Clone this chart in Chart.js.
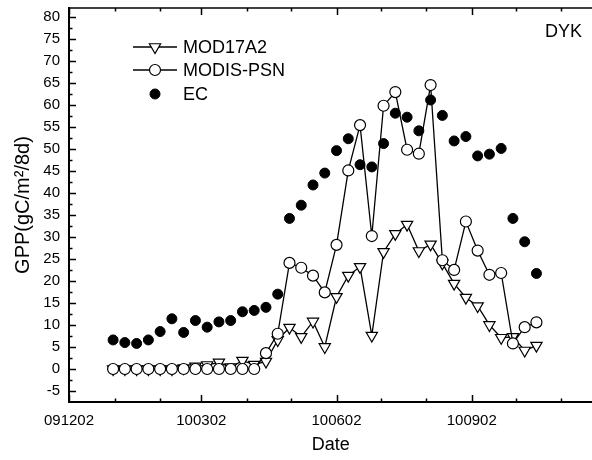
<!DOCTYPE html>
<html><head><meta charset="utf-8">
<script src="https://cdn.jsdelivr.net/npm/chart.js@4/dist/chart.umd.min.js"></script>
<style>html,body{margin:0;padding:0;background:#fff;overflow:hidden}#wrap{width:592px;height:460px;overflow:hidden}</style>
</head><body>
<div id="wrap"><canvas id="c" width="600" height="460"></canvas></div>
<script>
// ---- data ----
const dates = ['100101','100109','100117','100125','100202','100210','100218','100226','100306','100314',
  '100322','100330','100407','100415','100423','100501','100509','100517','100525','100602',
  '100610','100618','100626','100704','100712','100720','100728','100805','100813','100821',
  '100829','100906','100914','100922','100930','101008','101016'];
const mod17a2 = [0.0,0.0,0.0,0.0,0.0,0.0,0.2,0.6,0.9,1.5,
  0.4,1.9,1.0,1.7,6.6,9.4,7.3,10.8,5.0,16.4,
  21.2,23.2,7.6,26.6,30.7,32.8,26.8,28.3,24.0,19.4,
  16.2,14.3,10.0,7.1,7.3,4.2,5.3];
const modisPsn = [0.0,0.0,0.0,0.0,0.0,0.0,0.0,0.0,0.0,0.0,
  0.0,0.0,0.0,3.6,8.0,24.1,23.0,21.2,17.4,28.2,
  45.1,55.4,30.2,59.8,62.9,49.8,48.9,64.5,24.7,22.5,
  33.5,26.9,21.4,21.8,5.8,9.5,10.6];
const ec = [6.6,6.0,5.8,6.6,8.5,11.4,8.3,11.0,9.5,10.7,
  11.0,13.0,13.3,14.0,17.0,34.2,37.2,41.8,44.5,49.6,
  52.3,46.4,45.9,51.2,58.1,57.2,54.1,61.1,57.6,51.8,
  52.8,48.4,48.8,50.1,34.2,28.9,21.7];
const seriesNames = ['MOD17A2','MODIS-PSN','EC'];
const xTickDates = ['091202','100102','100202','100302','100402','100502','100602','100702','100802','100902','101002','101102'];
const xLabelDates = ['091202','100302','100602','100902'];
const yMajorTicks = [-5,0,5,10,15,20,25,30,35,40,45,50,55,60,65,70,75,80];
const yMinorTicks = [-2.5,2.5,7.5,12.5,17.5,22.5,27.5,32.5,37.5,42.5,47.5,52.5,57.5,62.5,67.5,72.5,77.5];
const siteName = 'DYK';
const xTitle = 'Date';
const yTitle = 'GPP(gC/m\u00B2/8d)';

// ---- helpers ----
const F = "'Liberation Sans', Arial, Helvetica, sans-serif";
function dayOf(s){
  const y = 2000 + +s.slice(0,2), m = +s.slice(2,4) - 1, d = +s.slice(4,6);
  return (Date.UTC(y,m,d) - Date.UTC(2009,11,2)) / 864e5;
}
const pts = arr => dates.map((d,i)=>({x: dayOf(d), y: arr[i]}));

const decor = {
  id: 'decor',
  afterDraw(chart){
    const {ctx, chartArea: a, scales: {x, y}} = chart;
    ctx.save();
    ctx.strokeStyle = '#000';
    ctx.lineWidth = 1.5;
    // top frame line
    ctx.beginPath(); ctx.moveTo(a.left - 1, a.top); ctx.lineTo(a.right, a.top); ctx.stroke();
    // x ticks (inward, bottom and top)
    x.ticks.forEach((t, i) => {
      const px = Math.round(x.getPixelForValue(t.value)) + 0.5;
      const L = xLabelDates.includes(xTickDates[i]) ? 7 : 3.5;
      ctx.beginPath();
      ctx.moveTo(px, a.bottom); ctx.lineTo(px, a.bottom - L);
      ctx.moveTo(px, a.top); ctx.lineTo(px, a.top + L);
      ctx.stroke();
    });
    // y ticks (inward, left)
    y.ticks.forEach(t => {
      const py = Math.round(y.getPixelForValue(t.value)) + 0.5;
      const L = yMajorTicks.includes(t.value) ? 7 : 3.5;
      ctx.beginPath(); ctx.moveTo(a.left, py); ctx.lineTo(a.left + L, py); ctx.stroke();
    });
    // legend
    const rows = [47, 70, 94];
    ctx.font = '18px ' + F;
    ctx.textBaseline = 'middle';
    ctx.textAlign = 'left';
    chart.data.datasets.forEach((ds, i) => {
      const ry = rows[i];
      if (ds.showLine !== false) {
        ctx.lineWidth = ds.borderWidth; ctx.strokeStyle = ds.borderColor;
        ctx.beginPath(); ctx.moveTo(133, ry); ctx.lineTo(177, ry); ctx.stroke();
      }
      ctx.fillStyle = ds.pointBackgroundColor; ctx.strokeStyle = ds.pointBorderColor;
      ctx.lineWidth = ds.pointBorderWidth;
      Chart.helpers.drawPoint(ctx, {pointStyle: ds.pointStyle, rotation: ds.pointRotation || 0,
        radius: ds.pointRadius, borderWidth: ds.pointBorderWidth}, 155, ry);
      ctx.fillStyle = '#000';
      ctx.fillText(ds.label, 183, ry + 1);
    });
    // site label
    ctx.textAlign = 'right';
    ctx.fillText(siteName, 582, 32);
    ctx.restore();
  }
};

new Chart(document.getElementById('c'), {
  type: 'line',
  data: {
    datasets: [
      {label: seriesNames[0], data: pts(mod17a2), borderColor: '#000', borderWidth: 1.3,
       pointStyle: 'triangle', pointRotation: 180, pointRadius: 6.5,
       pointBackgroundColor: '#fff', pointBorderColor: '#000', pointBorderWidth: 1.2, order: 3},
      {label: seriesNames[1], data: pts(modisPsn), borderColor: '#000', borderWidth: 1.3,
       pointStyle: 'circle', pointRadius: 5.5,
       pointBackgroundColor: '#fff', pointBorderColor: '#000', pointBorderWidth: 1.2, order: 2},
      {label: seriesNames[2], data: pts(ec), showLine: false, borderColor: '#000', borderWidth: 0,
       pointStyle: 'circle', pointRadius: 5,
       pointBackgroundColor: '#000', pointBorderColor: '#000', pointBorderWidth: 1, order: 1}
    ]
  },
  options: {
    responsive: false, animation: false, devicePixelRatio: 1, events: [],
    layout: {padding: {top: 8, right: 0, left: 0, bottom: 0}},
    plugins: {legend: {display: false}, tooltip: {enabled: false}},
    scales: {
      x: {
        type: 'linear', min: 0, max: 356, position: 'bottom',
        grid: {display: false, drawTicks: false},
        border: {display: true, color: '#000', width: 2},
        afterBuildTicks: s => { s.ticks = xTickDates.map(d => ({value: dayOf(d)})); },
        afterFit: s => { s.height = 58; s.paddingRight = 0; },
        ticks: {autoSkip: false, maxRotation: 0, minRotation: 0, padding: 10, color: '#000',
          font: {size: 15, family: F},
          callback: (v, i) => xLabelDates.includes(xTickDates[i]) ? xTickDates[i] : ''},
        title: {display: true, text: xTitle, color: '#000', font: {size: 18, family: F},
          padding: {top: 0, bottom: 4}}
      },
      y: {
        type: 'linear', min: -7.5, max: 82,
        grid: {display: false, drawTicks: false},
        border: {display: true, color: '#000', width: 2},
        afterBuildTicks: s => { s.ticks = yMajorTicks.concat(yMinorTicks).sort((a,b)=>a-b).map(v => ({value: v})); },
        afterFit: s => { s.width = 69; s.paddingTop = 0; s.paddingBottom = 0; },
        ticks: {autoSkip: false, padding: 9, color: '#000', font: {size: 15, family: F},
          callback: v => yMajorTicks.includes(v) ? String(v) : ''},
        title: {display: true, text: yTitle, color: '#000', font: {size: 20, family: F},
          padding: {top: 11, bottom: 0}}
      }
    }
  },
  plugins: [decor]
});
</script>
</body></html>
